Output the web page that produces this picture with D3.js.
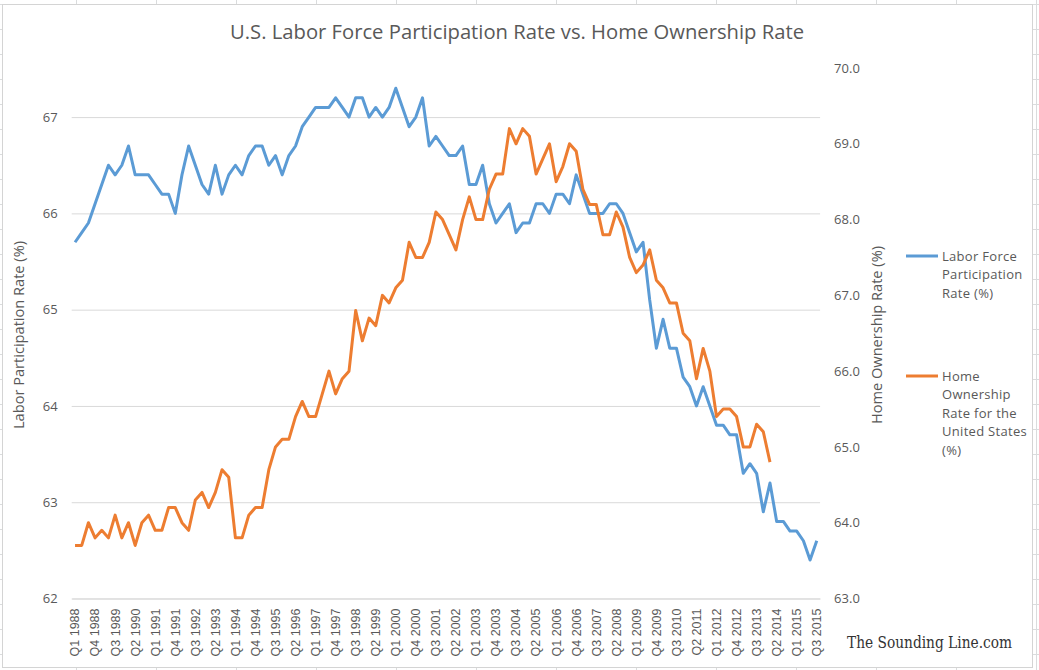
<!DOCTYPE html>
<html>
<head>
<meta charset="utf-8">
<style>
  body { margin: 0; background: #fff; }
  svg { display: block; font-family: "Open Sans", "Noto Sans", sans-serif; }
</style>
</head>
<body>
<svg width="1039" height="670"></svg>
<script src="https://cdn.jsdelivr.net/npm/d3@7/dist/d3.min.js"></script>
<script>
// quarterly values, Q1 1988 onward (labels as shown on the original axis, every 3rd quarter)
const tickLabels = ["Q1 1988", "Q4 1988", "Q3 1989", "Q2 1990", "Q1 1991", "Q4 1991", "Q3 1992", "Q2 1993",
  "Q1 1994", "Q4 1994", "Q3 1995", "Q2 1996", "Q1 1997", "Q4 1997", "Q3 1998", "Q2 1999", "Q1 2000",
  "Q4 2000", "Q3 2001", "Q2 2002", "Q1 2003", "Q4 2003", "Q3 2004", "Q2 2005", "Q1 2006", "Q4 2006",
  "Q3 2007", "Q2 2008", "Q1 2009", "Q4 2009", "Q3 2010", "Q2 2011", "Q1 2012", "Q4 2012", "Q3 2013",
  "Q2 2014", "Q1 2015", "Q3 2015"];

const laborForce = [
  65.7, 65.8, 65.9, 66.1, 66.3, 66.5, 66.4, 66.5, 66.7, 66.4,
  66.4, 66.4, 66.3, 66.2, 66.2, 66.0, 66.4, 66.7, 66.5, 66.3,
  66.2, 66.5, 66.2, 66.4, 66.5, 66.4, 66.6, 66.7, 66.7, 66.5,
  66.6, 66.4, 66.6, 66.7, 66.9, 67.0, 67.1, 67.1, 67.1, 67.2,
  67.1, 67.0, 67.2, 67.2, 67.0, 67.1, 67.0, 67.1, 67.3, 67.1,
  66.9, 67.0, 67.2, 66.7, 66.8, 66.7, 66.6, 66.6, 66.7, 66.3,
  66.3, 66.5, 66.1, 65.9, 66.0, 66.1, 65.8, 65.9, 65.9, 66.1,
  66.1, 66.0, 66.2, 66.2, 66.1, 66.4, 66.2, 66.0, 66.0, 66.0,
  66.1, 66.1, 66.0, 65.8, 65.6, 65.7, 65.1, 64.6, 64.9, 64.6,
  64.6, 64.3, 64.2, 64.0, 64.2, 64.0, 63.8, 63.8, 63.7, 63.7,
  63.3, 63.4, 63.3, 62.9, 63.2, 62.8, 62.8, 62.7, 62.7, 62.6,
  62.4, 62.6
];

const homeOwnership = [
  63.7, 63.7, 64.0, 63.8, 63.9, 63.8, 64.1, 63.8, 64.0, 63.7,
  64.0, 64.1, 63.9, 63.9, 64.2, 64.2, 64.0, 63.9, 64.3, 64.4,
  64.2, 64.4, 64.7, 64.6, 63.8, 63.8, 64.1, 64.2, 64.2, 64.7,
  65.0, 65.1, 65.1, 65.4, 65.6, 65.4, 65.4, 65.7, 66.0, 65.7,
  65.9, 66.0, 66.8, 66.4, 66.7, 66.6, 67.0, 66.9, 67.1, 67.2,
  67.7, 67.5, 67.5, 67.7, 68.1, 68.0, 67.8, 67.6, 68.0, 68.3,
  68.0, 68.0, 68.4, 68.6, 68.6, 69.2, 69.0, 69.2, 69.1, 68.6,
  68.8, 69.0, 68.5, 68.7, 69.0, 68.9, 68.4, 68.2, 68.2, 67.8,
  67.8, 68.1, 67.9, 67.5, 67.3, 67.4, 67.6, 67.2, 67.1, 66.9,
  66.9, 66.5, 66.4, 65.9, 66.3, 66.0, 65.4, 65.5, 65.5, 65.4,
  65.0, 65.0, 65.3, 65.2, 64.8
];

const leftTicks = [62, 63, 64, 65, 66, 67];
const rightTicks = [63, 64, 65, 66, 67, 68, 69, 70];

const blue = "#5b9bd5", orange = "#ed7d31", textCol = "#595959", gridCol = "#d9d9d9";

const svg = d3.select("svg");
const W = 1039, H = 670;

// spreadsheet cells behind the chart
const sheet = svg.append("g");
sheet.selectAll("line.col").data(d3.range(76.5, W, 80)).enter().append("line")
  .attr("x1", d => d).attr("x2", d => d).attr("y1", 0).attr("y2", H)
  .attr("stroke", "#dadcdd").attr("stroke-width", 1);
sheet.selectAll("line.row").data(d3.range(4.5, H, 25)).enter().append("line")
  .attr("x1", 0).attr("x2", W).attr("y1", d => d).attr("y2", d => d)
  .attr("stroke", "#dadcdd").attr("stroke-width", 1);

svg.append("rect")
  .attr("x", 2.5).attr("y", 4.5).attr("width", 1030).attr("height", 663)
  .attr("fill", "#fff").attr("stroke", "#d4d4d4");

const plot = { left: 71.7, right: 820.1, top: 68, bottom: 598.5 };

const x = d3.scaleBand()
  .domain(d3.range(laborForce.length))
  .range([plot.left, plot.right]);
const cx = i => x(i) + x.bandwidth() / 2;

const yLeft = d3.scaleLinear().domain([62, 67.51]).range([plot.bottom, plot.top]);
const yRight = d3.scaleLinear().domain([63, 70]).range([plot.bottom, plot.top]);

// left axis + gridlines
const gl = svg.append("g")
  .attr("transform", `translate(${plot.left},0)`)
  .call(d3.axisLeft(yLeft).tickValues(leftTicks).tickFormat(d3.format("d"))
    .tickSize(-(plot.right - plot.left)).tickPadding(14));
gl.select(".domain").remove();
gl.selectAll(".tick line").attr("stroke", gridCol);
gl.selectAll(".tick text").attr("fill", textCol).style("font-size", "13px").style("font-family", "Open Sans");

// right axis
const gr = svg.append("g")
  .attr("transform", `translate(${plot.right},0)`)
  .call(d3.axisRight(yRight).tickValues(rightTicks).tickFormat(d3.format(".1f"))
    .tickSize(0).tickPadding(14));
gr.select(".domain").remove();
gr.selectAll(".tick text").attr("fill", textCol).style("font-size", "13px").style("font-family", "Open Sans");

// bottom axis
const gb = svg.append("g")
  .attr("transform", `translate(0,${plot.bottom})`)
  .call(d3.axisBottom(x).tickValues(d3.range(0, laborForce.length, 3))
    .tickFormat(d => tickLabels[d / 3]).tickSize(0));
gb.select(".domain").attr("stroke", gridCol);
gb.selectAll(".tick text")
  .attr("transform", "rotate(-90)")
  .attr("text-anchor", "end")
  .attr("x", -10).attr("y", 0).attr("dy", "0.35em")
  .attr("fill", textCol)
  .style("font-size", "12.5px").style("font-family", "Liberation Sans");

// lines
const lineL = d3.line().x((d, i) => cx(i)).y(d => yLeft(d));
const lineR = d3.line().x((d, i) => cx(i)).y(d => yRight(d));

svg.append("path").datum(laborForce)
  .attr("d", lineL).attr("fill", "none").attr("stroke", blue)
  .attr("stroke-width", 3).attr("stroke-linejoin", "round");
svg.append("path").datum(homeOwnership)
  .attr("d", lineR).attr("fill", "none").attr("stroke", orange)
  .attr("stroke-width", 3).attr("stroke-linejoin", "round");

// title
svg.append("text")
  .attr("x", 517).attr("y", 39)
  .attr("text-anchor", "middle")
  .attr("fill", textCol)
  .attr("textLength", 574).attr("lengthAdjust", "spacingAndGlyphs")
  .style("font-size", "20px").style("font-family", "Open Sans")
  .text("U.S. Labor Force Participation Rate vs. Home Ownership Rate");

// axis titles
svg.append("text")
  .attr("transform", "translate(24,335) rotate(-90)")
  .attr("text-anchor", "middle").attr("fill", textCol)
  .attr("textLength", 188).attr("lengthAdjust", "spacingAndGlyphs")
  .style("font-size", "14px")
  .text("Labor Participation Rate (%)");
svg.append("text")
  .attr("transform", "translate(882,335) rotate(-90)")
  .attr("text-anchor", "middle").attr("fill", textCol)
  .attr("textLength", 178).attr("lengthAdjust", "spacingAndGlyphs")
  .style("font-size", "14px")
  .text("Home Ownership Rate (%)");

// legend
const legend = [
  { color: blue, y: 256, lines: ["Labor Force", "Participation", "Rate (%)"] },
  { color: orange, y: 376, lines: ["Home", "Ownership", "Rate for the", "United States", "(%)"] }
];
const lg = svg.selectAll("g.legend").data(legend).enter().append("g")
  .attr("transform", d => `translate(0,${d.y})`);
lg.append("line")
  .attr("x1", 906).attr("x2", 938).attr("y1", 0).attr("y2", 0)
  .attr("stroke", d => d.color).attr("stroke-width", 3);
lg.append("text")
  .attr("fill", textCol).style("font-size", "13px").style("letter-spacing", "0.3px")
  .selectAll("tspan").data(d => d.lines).enter().append("tspan")
  .attr("x", 942).attr("y", (d, i) => i * 18.5).attr("dy", "0.35em")
  .text(d => d);

// watermark
svg.append("text")
  .attr("x", 847).attr("y", 648)
  .attr("fill", "#333")
  .attr("textLength", 165).attr("lengthAdjust", "spacingAndGlyphs")
  .style("font-size", "16px").style("font-family", "DejaVu Serif")
  .text("The Sounding Line.com");
</script>
</body>
</html>
